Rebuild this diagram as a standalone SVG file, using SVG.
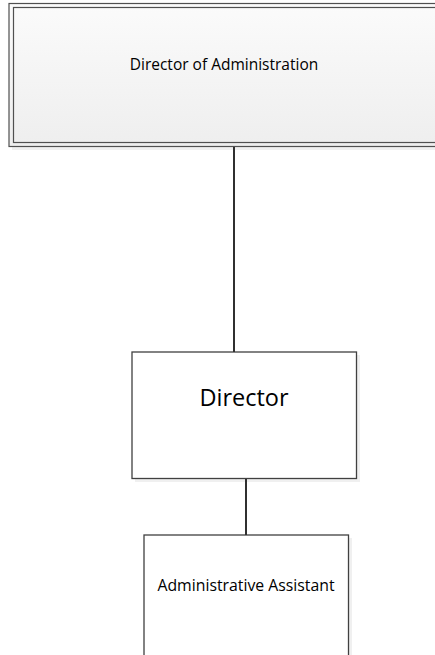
<svg xmlns="http://www.w3.org/2000/svg" width="435" height="655" viewBox="0 0 435 655">
<style>
.box{fill:#ffffff;stroke:#404040;stroke-width:1.3}
.shadow{fill:#f0f0f0}
.lbl{font-family:"Open Sans","Liberation Sans",sans-serif;fill:#000;text-anchor:middle}
.conn{stroke:#303030;stroke-width:2;fill:none}
</style>
<defs>
<linearGradient id="g" x1="0" y1="0" x2="0" y2="1">
<stop offset="0" stop-color="#fbfbfb"/>
<stop offset="1" stop-color="#eeeeee"/>
</linearGradient>
</defs>
<g id="node-director-admin">
<rect class="shadow" x="12" y="146" width="430" height="4"/>
<rect x="9" y="3.5" width="440" height="143" fill="url(#g)" stroke="#505050" stroke-width="1.2"/>
<rect x="13.5" y="7.5" width="440" height="135" fill="none" stroke="#505050" stroke-width="1.2"/>
<text class="lbl" x="224" y="70" font-size="15.5">Director of Administration</text>
</g>
<g id="node-director">
<rect class="shadow" x="135" y="355" width="225" height="127"/>
<rect class="box" x="132" y="352" width="224.5" height="126.5"/>
<text class="lbl" x="244" y="406" font-size="23.5">Director</text>
</g>
<g id="node-admin-assistant">
<rect class="shadow" x="147" y="538" width="205" height="130"/>
<rect class="box" x="144" y="535" width="204.5" height="130"/>
<text class="lbl" x="246" y="591" font-size="15.8">Administrative Assistant</text>
</g>
<g id="connectors">
<line class="conn" x1="234" y1="147" x2="234" y2="352"/>
<line class="conn" x1="246" y1="479" x2="246" y2="535"/>
</g>
</svg>
